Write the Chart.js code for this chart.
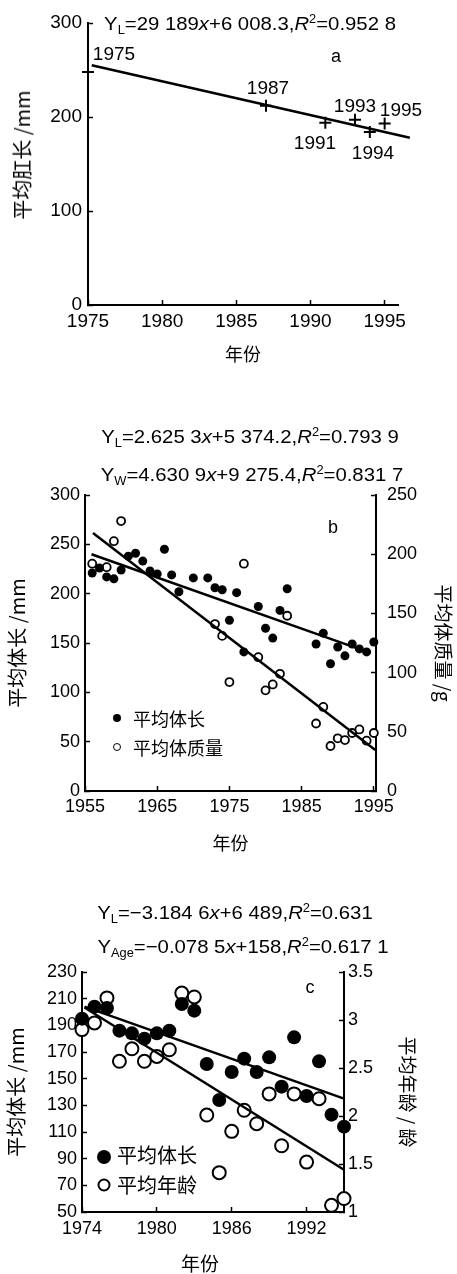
<!DOCTYPE html>
<html lang="zh">
<head>
<meta charset="utf-8">
<title>平均体长变化</title>
<script src="https://cdn.jsdelivr.net/npm/chart.js@4.4.1/dist/chart.umd.min.js"></script>
<style>
  html, body { margin: 0; padding: 0; background: #fff; }
  #page { position: relative; width: 457px; height: 1274px; overflow: hidden;
          font-family: 'Liberation Sans', Arial, sans-serif; color: #000; }
  canvas { position: absolute; left: 0; }
  .t { position: absolute; white-space: nowrap; line-height: 1; transform: translate(-50%, -50%); }
  .l { transform: translate(0, -50%); }
  .eq { font-size: 19px; transform: translate(-50%, -50%) scaleX(1.07); }
  .eq sub { font-size: 12px; vertical-align: -4px; }
  .eq sup { font-size: 12px; vertical-align: 7px; }
  .cjk { font-family: 'Noto Sans CJK SC', sans-serif; }
  .rot { transform: translate(-50%, -50%) rotate(-90deg); }
  .dot { position: absolute; border-radius: 50%; box-sizing: border-box; transform: translate(-50%, -50%); }
</style>
</head>
<body>
<div id="page">
  <canvas id="chartA" width="457" height="375" style="top:0"></canvas>
  <canvas id="chartB" width="457" height="465" style="top:395px"></canvas>
  <canvas id="chartC" width="457" height="404" style="top:870px"></canvas>

  <!-- 图 a -->
  <div class="t eq" style="left:250px;top:24px">Y<sub>L</sub>=29 189<i>x</i>+6 008.3,<i>R</i><sup>2</sup>=0.952 8</div>
  <div class="t" style="left:336px;top:56px;font-size:18px">a</div>
  <div class="t" style="left:114px;top:53px;font-size:19px">1975</div>
  <div class="t" style="left:268px;top:87px;font-size:19px">1987</div>
  <div class="t" style="left:315px;top:142px;font-size:19px">1991</div>
  <div class="t" style="left:355px;top:105px;font-size:19px">1993</div>
  <div class="t" style="left:401px;top:109px;font-size:19px">1995</div>
  <div class="t" style="left:373px;top:152px;font-size:19px">1994</div>
  <div class="t cjk rot" style="left:22px;top:155px;font-size:20px">平均肛长 /mm</div>

  <!-- 图 b -->
  <div class="t eq" style="left:250px;top:437px">Y<sub>L</sub>=2.625 3<i>x</i>+5 374.2,<i>R</i><sup>2</sup>=0.793 9</div>
  <div class="t eq" style="left:252px;top:475px">Y<sub>W</sub>=4.630 9<i>x</i>+9 275.4,<i>R</i><sup>2</sup>=0.831 7</div>
  <div class="t" style="left:333px;top:527px;font-size:18px">b</div>
  <div class="dot" style="left:117px;top:718px;width:8px;height:8px;background:#000"></div>
  <div class="t l cjk" style="left:133px;top:718px;font-size:18px">平均体长</div>
  <div class="dot" style="left:117px;top:747px;width:8px;height:8px;border:1.6px solid #000;background:#fff"></div>
  <div class="t l cjk" style="left:133px;top:747px;font-size:18px">平均体质量</div>

  <!-- 图 c -->
  <div class="t eq" style="left:235px;top:913px">Y<sub>L</sub>=−3.184 6<i>x</i>+6 489,<i>R</i><sup>2</sup>=0.631</div>
  <div class="t eq" style="left:243px;top:947px">Y<sub>Age</sub>=−0.078 5<i>x</i>+158,<i>R</i><sup>2</sup>=0.617 1</div>
  <div class="t" style="left:310px;top:987px;font-size:18px">c</div>
  <div class="dot" style="left:104px;top:1157px;width:14px;height:14px;background:#000"></div>
  <div class="t l cjk" style="left:117px;top:1155px;font-size:20px">平均体长</div>
  <div class="dot" style="left:104px;top:1185px;width:13px;height:13px;border:2px solid #000;background:#fff"></div>
  <div class="t l cjk" style="left:117px;top:1185px;font-size:20px">平均年龄</div>
  <div class="t cjk" style="left:200px;top:1262px;font-size:19px">年份</div>
</div>

<script>
// ---- 图 a：平均肛长 ----
const yearsA = [1975, 1987, 1991, 1993, 1994, 1995];
const lengthA = [248, 212, 194, 197, 184, 193];
const trendYearsA = [1975.25, 1996.7];
const trendA = [255, 178];
const xTicksA = [1975, 1980, 1985, 1990, 1995];
const yTicksA = [0, 100, 200, 300];

// ---- 图 b：平均体长 / 平均体质量 ----
const yearsBL = [1956, 1957, 1958, 1959, 1960, 1961, 1962, 1963, 1964, 1965, 1966, 1967, 1968, 1970,
  1972, 1973, 1974, 1975, 1976, 1977, 1979, 1980, 1981, 1982, 1983, 1987, 1988, 1989, 1990, 1991,
  1992, 1993, 1994, 1995];
const lengthB = [221, 226, 217, 215, 224, 238, 241, 233, 223, 220, 245, 219, 202, 216,
  216, 206, 204, 173, 201, 141, 187, 165, 155, 183, 205, 149, 160, 129, 146, 137,
  149, 144, 141, 151];
const yearsBW = [1956, 1958, 1959, 1960, 1973, 1974, 1975, 1977, 1979, 1980, 1981, 1982, 1983,
  1987, 1988, 1989, 1990, 1991, 1992, 1993, 1994, 1995];
const weightB = [192, 189, 211, 228, 141, 131, 92, 192, 113, 85, 90, 99, 148,
  57, 71, 38, 44.5, 43, 49, 52, 42.5, 49];
const trendYearsBL = [1955.9, 1994.1];
const trendBL = [240, 141];
const trendYearsBW = [1956.1, 1995.2];
const trendBW = [218, 34.6];
const xTicksB = [1955, 1965, 1975, 1985, 1995];
const yTicksB = [0, 50, 100, 150, 200, 250, 300];
const y2TicksB = [0, 50, 100, 150, 200, 250];

// ---- 图 c：平均体长 / 平均年龄 ----
const yearsC = [1974, 1975, 1976, 1977, 1978, 1979, 1980, 1981, 1982, 1983, 1984,
  1985, 1986, 1987, 1988, 1989, 1990, 1991, 1992, 1993, 1994, 1995];
const lengthC = [195, 204, 203, 186, 184, 180, 184, 186, 206, 201, 161,
  134, 155, 165, 155, 166, 144, 181, 137, 163, 123, 114];
const ageC = [2.90, 2.97, 3.23, 2.57, 2.70, 2.57, 2.62, 2.69, 3.28, 3.24, 2.01,
  1.41, 1.84, 2.06, 1.92, 2.23, 1.69, 2.23, 1.52, 2.18, 1.07, 1.14];
const trendYearsC = [1974.2, 1995];
const trendCL = [204, 135];
const trendCA = [3.13, 1.44];
const xTicksC = [1974, 1980, 1986, 1992];
const yTicksC = [50, 70, 90, 110, 130, 150, 170, 190, 210, 230];
const y2TicksC = [1, 1.5, 2, 2.5, 3, 3.5];

const FONT = "'Liberation Sans', Arial, sans-serif";
const CJK = "'Noto Sans CJK SC', 'Liberation Sans', sans-serif";

const pts = (xs, ys) => xs.map((x, i) => ({ x: x, y: ys[i] }));

// 坐标轴：刻度朝内，无网格
function axis(o) {
  return {
    type: 'linear',
    position: o.position,
    min: o.min,
    max: o.max,
    afterBuildTicks: s => { s.ticks = o.ticks.map(v => ({ value: v })); },
    afterFit: s => {
      if (o.width != null) s.width = o.width;
      if (o.height != null) s.height = o.height;
    },
    grid: { drawOnChartArea: false, drawTicks: true, tickLength: -5, tickColor: '#000', tickWidth: 1.5 },
    border: { display: true, color: '#000', width: 2 },
    ticks: {
      color: '#000', padding: o.pad, maxRotation: 0, autoSkip: false,
      font: { family: FONT, size: o.size },
      callback: v => String(v)
    },
    title: o.title
      ? { display: true, text: o.title, color: '#000', font: { family: CJK, size: o.titleSize }, padding: o.titlePad }
      : { display: false }
  };
}

function options(padding, scales) {
  return {
    responsive: false,
    animation: false,
    devicePixelRatio: 1,
    events: [],
    layout: { padding: padding },
    plugins: { legend: { display: false }, tooltip: { enabled: false } },
    scales: scales
  };
}

const trendStyle = { showLine: true, pointRadius: 0, borderColor: '#000', borderWidth: 2.5, clip: false };
const filled = r => ({ pointRadius: r, pointBackgroundColor: '#000', pointBorderColor: '#000', pointBorderWidth: 0, clip: false });
const hollow = (r, w) => ({ pointRadius: r, pointBackgroundColor: '#fff', pointBorderColor: '#000', pointBorderWidth: w, clip: false });

// 图 a
new Chart(document.getElementById('chartA'), {
  type: 'scatter',
  data: {
    datasets: [
      Object.assign({ data: pts(trendYearsA, trendA) }, trendStyle),
      { data: pts(yearsA, lengthA), pointStyle: 'cross', pointRadius: 6, pointBorderWidth: 2,
        pointBorderColor: '#000', borderColor: '#000', clip: false }
    ]
  },
  options: options({ top: 23, right: 59, bottom: 0, left: 0 }, {
    x: axis({ position: 'bottom', min: 1975, max: 1995.9, ticks: xTicksA, height: 70, pad: 10, size: 19,
      title: '年份', titleSize: 18, titlePad: { top: 0, bottom: 10 } }),
    y: axis({ position: 'left', min: 0, max: 300, ticks: yTicksA, width: 88, pad: 11, size: 19 })
  })
});

// 图 b
new Chart(document.getElementById('chartB'), {
  type: 'scatter',
  data: {
    datasets: [
      Object.assign({ data: pts(trendYearsBL, trendBL), yAxisID: 'y' }, trendStyle),
      Object.assign({ data: pts(trendYearsBW, trendBW), yAxisID: 'y2' }, trendStyle),
      Object.assign({ label: '平均体长', data: pts(yearsBL, lengthB), yAxisID: 'y' }, filled(4.5)),
      Object.assign({ label: '平均体质量', data: pts(yearsBW, weightB), yAxisID: 'y2' }, hollow(4, 1.8))
    ]
  },
  options: options({ top: 100, right: 0, bottom: 0, left: 0 }, {
    x: axis({ position: 'bottom', min: 1955, max: 1995.3, ticks: xTicksB, height: 69, pad: 10, size: 18,
      title: '年份', titleSize: 18, titlePad: { top: 0, bottom: 6 } }),
    y: axis({ position: 'left', min: 0, max: 300, ticks: yTicksB, width: 85, pad: 10, size: 18,
      title: '平均体长 /mm', titleSize: 20, titlePad: { top: 5, bottom: 0 } }),
    y2: axis({ position: 'right', min: 0, max: 250, ticks: y2TicksB, width: 81, pad: 16, size: 18,
      title: '平均体质量 /g', titleSize: 19, titlePad: { top: 2, bottom: 0 } })
  })
});

// 图 c
new Chart(document.getElementById('chartC'), {
  type: 'scatter',
  data: {
    datasets: [
      Object.assign({ data: pts(trendYearsC, trendCL), yAxisID: 'y' }, trendStyle),
      Object.assign({ data: pts(trendYearsC, trendCA), yAxisID: 'y2' }, trendStyle),
      Object.assign({ label: '平均体长', data: pts(yearsC, lengthC), yAxisID: 'y' }, filled(7)),
      Object.assign({ label: '平均年龄', data: pts(yearsC, ageC), yAxisID: 'y2' }, hollow(6.5, 2))
    ]
  },
  options: options({ top: 102, right: 0, bottom: 0, left: 0 }, {
    x: axis({ position: 'bottom', min: 1974, max: 1995, ticks: xTicksC, height: 62, pad: 11, size: 18 }),
    y: axis({ position: 'left', min: 50, max: 230, ticks: yTicksC, width: 82, pad: 10, size: 18,
      title: '平均体长 /mm', titleSize: 20, titlePad: { top: 4, bottom: 0 } }),
    y2: axis({ position: 'right', min: 1, max: 3.5, ticks: y2TicksC, width: 113, pad: 9, size: 18,
      title: '平均年龄 / 龄', titleSize: 19, titlePad: { top: 38, bottom: 0 } })
  })
});
</script>
</body>
</html>
